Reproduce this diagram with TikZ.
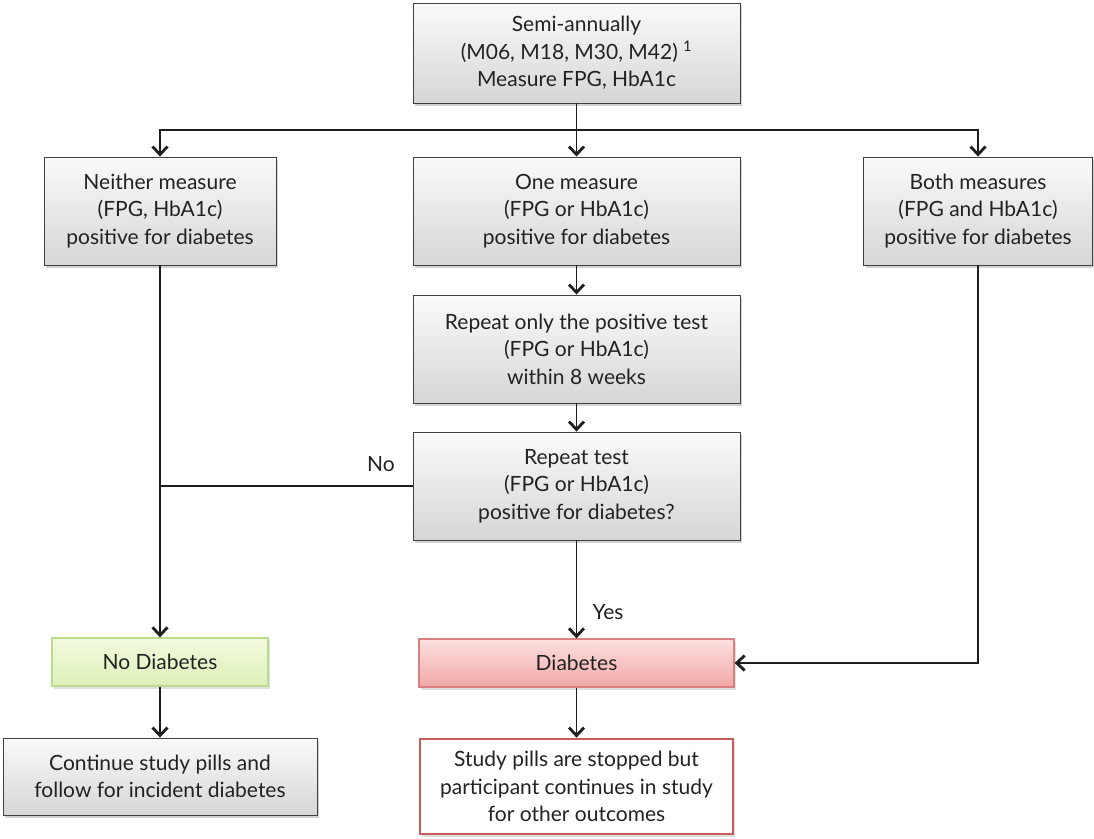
\documentclass[tikz,border=0pt]{standalone}
\usepackage{fontspec}
\setmainfont{Lato}
\usetikzlibrary{shadows,arrows.meta}
\definecolor{txt}{HTML}{222222}
\definecolor{lin}{HTML}{1E1E1E}
\definecolor{grn}{HTML}{B9DC8C}
\definecolor{grntop}{HTML}{F2FADF}
\definecolor{grnbot}{HTML}{DDF0B8}
\definecolor{redb}{HTML}{D98080}
\definecolor{redtop}{HTML}{FCE0E0}
\definecolor{redbot}{HTML}{F2A8A8}
\definecolor{outr}{HTML}{C85C5C}
\tikzset{
  x=1pt,y=-1pt,
  every node/.style={font=\fontsize{21}{27.5}\selectfont, text=txt},
  graybox/.style={draw=lin!85, line width=0.9pt, top color=gray!4, bottom color=gray!32,
     drop shadow={opacity=0.35, shadow xshift=2pt, shadow yshift=-2.5pt},
     align=center, inner sep=0pt},
  greenbox/.style={draw=grn, line width=1.3pt, top color=grntop, bottom color=grnbot,
     drop shadow={opacity=0.25, shadow xshift=2pt, shadow yshift=-2.5pt},
     align=center, inner sep=0pt},
  redbox/.style={draw=redb, line width=1.3pt, top color=redtop, bottom color=redbot,
     drop shadow={opacity=0.25, shadow xshift=2pt, shadow yshift=-2.5pt},
     align=center, inner sep=0pt},
  outbox/.style={draw=outr, line width=2.8pt, fill=white,
     drop shadow={opacity=0.25, shadow xshift=2pt, shadow yshift=-2.5pt},
     align=center, inner sep=0pt},
  arr/.style={-{Straight Barb[length=8pt,width=15pt,line width=2.8pt]}, draw=lin, line width=1.3pt},
  ln/.style={draw=lin, line width=1.3pt},
  lab/.style={font=\fontsize{21}{24}\selectfont}
}
\begin{document}
\begin{tikzpicture}
\useasboundingbox (0,0) rectangle (1094,838);
\fill[white] (0,0) rectangle (1094,838);

\node[graybox, minimum width=327pt, minimum height=100pt] (top) at (576.5,53)
  {Semi-annually\\(M06, M18, M30, M42) \textsuperscript{1}\\Measure FPG, HbA1c};

\node[graybox, minimum width=232pt, minimum height=108pt] (neither) at (160,211)
  {Neither measure\\(FPG, HbA1c)\\positive for diabetes};
\node[graybox, minimum width=327pt, minimum height=108pt] (one) at (576.5,211)
  {One measure\\(FPG or HbA1c)\\positive for diabetes};
\node[graybox, minimum width=229pt, minimum height=108pt] (both) at (978,211)
  {Both measures\\(FPG and HbA1c)\\positive for diabetes};

\node[graybox, minimum width=327pt, minimum height=108pt] (rep1) at (576.5,349)
  {Repeat only the positive test\\(FPG or HbA1c)\\within 8 weeks};
\node[graybox, minimum width=327pt, minimum height=108pt] (rep2) at (576.5,486)
  {Repeat test\\(FPG or HbA1c)\\positive for diabetes?};

\node[greenbox, minimum width=216pt, minimum height=48pt] (nodiab) at (160,662) {No Diabetes};
\node[redbox, minimum width=315pt, minimum height=48pt] (diab) at (576.5,663) {Diabetes};

\node[graybox, minimum width=314pt, minimum height=77pt] (cont) at (160,776.5)
  {Continue study pills and\\follow for incident diabetes};
\node[outbox, minimum width=313pt, minimum height=95pt] (pills) at (576.5,786.5)
  {Study pills are stopped but\\participant continues in study\\for other outcomes};

\coordinate (j) at (576.5,130);
\draw[arr] (top) -- (one);
\draw[arr] (j) -| (neither);
\draw[arr] (j) -| (both);
\draw[arr] (one) -- (rep1);
\draw[arr] (rep1) -- (rep2);

\coordinate (k) at (160,486);
\draw[ln] (rep2.west) -- (k);
\node[lab] (no) at (381,464) {No};
\draw[arr] (neither) -- (nodiab);

\draw[arr] (rep2) -- (diab);
\node[lab] (yes) at (608,612) {Yes};

\draw[arr] (both.south) |- (diab.east);

\draw[arr] (nodiab) -- (cont);
\draw[arr] (diab) -- (pills);
\end{tikzpicture}
\end{document}
